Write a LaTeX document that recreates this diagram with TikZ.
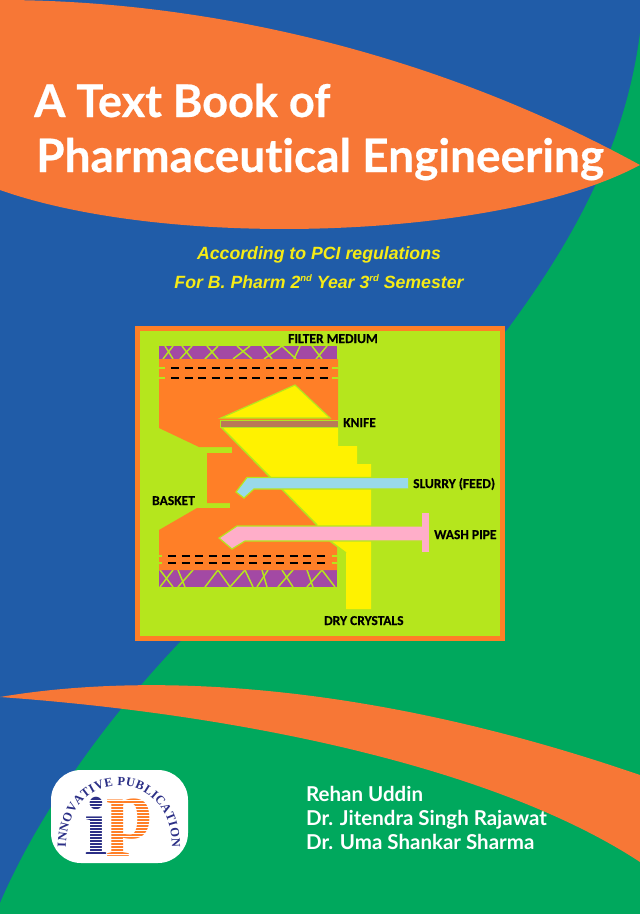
\documentclass[tikz,border=0pt]{standalone}
\usepackage{fontspec}
\usetikzlibrary{decorations.text}
\newfontfamily\titlefont{Lato Bold}[Ligatures=NoCommon, FakeBold=0.5]
\newfontfamily\authorfont{Lato Bold}[Ligatures=NoCommon]
\newfontfamily\labelfont{Carlito Bold}[FakeBold=0.4]
\newfontfamily\subfont{Liberation Sans}
\newfontfamily\logofont{Liberation Serif}
\newcommand{\ordinal}[1]{\raisebox{6.5pt}{\fontsize{9.5}{9.5}\selectfont #1}}
\definecolor{coverBlue}{HTML}{205CA8}
\definecolor{coverGreen}{HTML}{00A85D}
\definecolor{coverOrange}{HTML}{F77736}
\definecolor{coverYellow}{HTML}{F6EB16}
\definecolor{plateOrange}{HTML}{FF7F27}
\definecolor{plateLime}{HTML}{B5E61D}
\definecolor{platePurple}{HTML}{A349A4}
\definecolor{plateYellow}{HTML}{FFF200}
\definecolor{plateBrown}{HTML}{B97A57}
\definecolor{plateBlue}{HTML}{99D9EA}
\definecolor{platePink}{HTML}{FFAEC9}
\definecolor{logoNavy}{HTML}{2B2F86}
\tikzset{
  titletext/.style={anchor=base west, inner sep=0pt, text=white, font=\titlefont\fontsize{46}{46}\selectfont},
  authortext/.style={anchor=base west, inner sep=0pt, text=white, font=\authorfont\fontsize{20.5}{20.5}\selectfont},
  subtext/.style={anchor=base, inner sep=0pt, text=coverYellow, font=\subfont\bfseries\itshape\fontsize{17.7}{17.7}\selectfont},
  parttext/.style={anchor=base west, inner sep=0pt, text=black, font=\labelfont\fontsize{13.5}{13.5}\selectfont},
  wire/.style={color=plateLime, line width=1.5pt},
  piece/.style={draw=plateLime, line width=1.2pt},
  perforation/.style={color=black, line width=1.5pt, dash pattern=on 8pt off 5.5pt}
}
\begin{document}
\begin{tikzpicture}[x=1pt, y=-1pt]
\useasboundingbox (0,0) rectangle (640,914);
\clip (0,0) rectangle (640,914);
\fill[color=coverBlue] (0,0) rectangle (640,914);
\fill[color=coverGreen] (640,33) .. controls (625,150) and (570,245) .. (507,330) -- (182,640) .. controls (110,715) and (40,810) .. (0,903) -- (0,914) -- (640,914) -- cycle;
\fill[color=coverOrange] (0,0) .. controls (200,0) and (430,50) .. (640,165) .. controls (500,240) and (170,250) .. (0,190) -- cycle;
\fill[color=coverOrange] (0,697) .. controls (100,680) and (320,665) .. (640,775) -- (640,862) .. controls (500,770) and (250,715) .. (0,697) -- cycle;
\node[titletext, font=\titlefont\fontsize{45}{45}\selectfont] (titleone) at (34,117) {A Text Book of};
\node[titletext] (titletwo) at (36,172) {Pharmaceutical Engineering};
\node[subtext] (regulations) at (319,259) {According to PCI regulations};
\node[subtext] (semester) at (319,288) {For B. Pharm 2\ordinal{nd} Year 3\ordinal{rd} Semester};
\fill[color=plateOrange] (135,326) rectangle (505,641);
\fill[color=plateLime] (140,331) rectangle (500,636);
\fill[color=platePurple] (159,346) rectangle (337,359);
\foreach \xa/\xb in {165/173, 173/163, 182/192, 192/180, 207/218, 218/205, 237/252, 250/233, 262/272, 282/264, 282/296, 300/294, 312/322, 327/316}
  \draw[wire] (\xa,346) -- (\xb,359);
\fill[color=platePurple] (159,570) rectangle (337,587);
\foreach \xa/\xb in {160/173, 173/160, 178/185, 193/178, 218/205, 218/230, 245/230, 245/253, 262/267, 268/257, 282/293, 293/278, 307/313, 322/307, 322/335}
  \draw[wire] (\xa,570) -- (\xb,587);
\fill[color=plateOrange] (159,359) -- (338,359) -- (338,427) -- (317,525) -- (330,541) -- (337,547) -- (337,570) -- (159,570) -- (159,530) -- (197,508) -- (230,508) -- (230,503) -- (207,503) -- (207,453) -- (232,453) -- (232,447) -- (199,447) -- (159,428) -- cycle;
\fill[color=plateYellow] (221,427) -- (338,427) -- (338,446) -- (357,446) -- (357,464) -- (371,464) -- (371,609) -- (346,609) -- (346,553) -- (330,541) -- (317,525) -- cycle;
\draw[wire] (221,427) -- (317,525);
\draw[wire] (330,541) -- (346,553);
\draw[piece, fill=plateYellow] (221,418) -- (295,385) -- (330,418) -- cycle;
\draw[piece, line width=0.8pt, fill=plateBrown] (220.5,420) rectangle (338,427);
\draw[piece, fill=plateBlue] (408,477.5) -- (247,477.5) -- (236,492) -- (244,498) -- (254,489) -- (408,489);
\fill[color=plateBlue] (408,478.1) rectangle (400,488.4);
\draw[piece, fill=platePink] (422,526) -- (237,526) -- (219,538) -- (232,549) -- (245,541) -- (422,541);
\fill[color=platePink] (422,513) rectangle (429,552);
\fill[color=platePink] (415,526.6) rectangle (423,540.4);
\foreach \ya in {368, 378} {
  \draw[perforation] (171,\ya) -- (328,\ya);
  \draw[wire] (159,\ya) -- (165,\ya);
  \draw[wire] (332,\ya) -- (338,\ya);
}
\foreach \ya in {556, 563} {
  \draw[perforation] (168,\ya) -- (327,\ya);
  \draw[wire] (159,\ya) -- (162,\ya);
  \draw[wire] (332,\ya) -- (337,\ya);
}
\node[parttext, anchor=base] (filtermedium) at (333,343) {FILTER MEDIUM};
\node[parttext] (knife) at (343,427) {KNIFE};
\node[parttext] (slurry) at (413,488) {SLURRY (FEED)};
\node[parttext] (basket) at (152,505) {BASKET};
\node[parttext] (washpipe) at (434,539) {WASH PIPE};
\node[parttext] (drycrystals) at (324,625) {DRY CRYSTALS};
\fill[color=white, rounded corners=30pt] (51,770) rectangle (188,863);
\node[inner sep=0pt, anchor=base, text=logoNavy, font=\logofont\bfseries\fontsize{84}{84}\selectfont] (logoi) at (96,855) {i};
\node[inner sep=0pt, anchor=base, text=plateOrange, font=\logofont\bfseries\fontsize{84}{84}\selectfont] (logop) at (130,838) {p};
\foreach \ya in {800,803,...,857}
  \draw[color=white, line width=0.8pt] (85,\ya) -- (153,\ya);
\path[decorate, decoration={text along path, text align={fit to path}, text={|\logofont\bfseries\fontsize{12.5}{12.5}\selectfont\color{logoNavy}|INNOVATIVE{ }PUBLICATION}}] (66,847) .. controls (66,765) and (172,765) .. (172,847);
\node[authortext] (authorone) at (306,801) {Rehan Uddin};
\node[authortext] (authortwo) at (306,825) {Dr. Jitendra Singh Rajawat};
\node[authortext] (authorthree) at (306,849) {Dr. Uma Shankar Sharma};
\end{tikzpicture}
\end{document}
